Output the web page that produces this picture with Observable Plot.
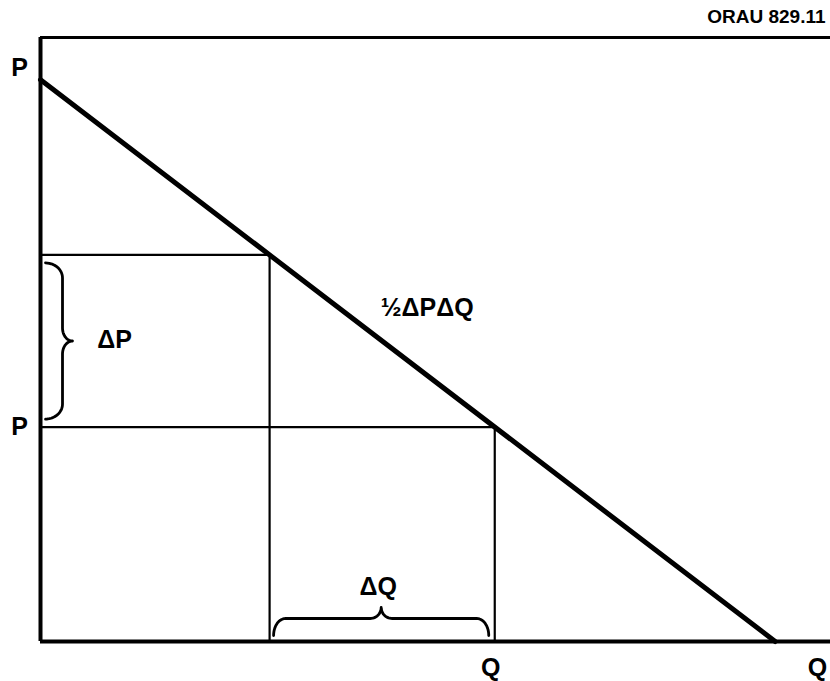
<!DOCTYPE html>
<html>
<head>
<meta charset="utf-8">
<script src="https://cdn.jsdelivr.net/npm/d3@7"></script>
<script src="https://cdn.jsdelivr.net/npm/@observablehq/plot@0.6"></script>
<style>
  html, body { margin: 0; padding: 0; background: #fff; }
</style>
</head>
<body>
<div id="chart"></div>
<script>
// ---- data ----
const demandQ = [0, 93];          // demand line quantity end-points
const demandP = [93, 0];          // demand line price end-points
const qLevels = [29, 57.5];       // Q1, Q2 (vertical lines)
const pLevels = [64, 35.5];       // P1, P2 (horizontal lines)
const pLabelText = ["P", "P"];
const qLabelText = ["Q", "Q"];
const figureId = "ORAU 829.11";
const areaLabel = "½ΔPΔQ";
const dPLabel = "ΔP";
const dQLabel = "ΔQ";

// ---- layout ----
const W = 830, H = 681, mL = 40, mR = 0, mT = 37, mB = 40;
const pxX = 100 / (W - mL - mR);  // data units per pixel (x)
const pxY = 100 / (H - mT - mB);  // data units per pixel (y)

// brace shape in a local pixel frame: t along, u perpendicular
function braceShape(L, h1, h2, rEnd, rTip, n = 14) {
  const half = [];
  for (let i = 0; i <= n; i++) {
    const th = (i / n) * Math.PI / 2;
    half.push([rEnd * (1 - Math.cos(th)), h1 * Math.sin(th)]);
  }
  for (let i = 0; i <= n; i++) {
    const ph = (i / n) * Math.PI / 2;
    half.push([L / 2 - rTip + rTip * Math.sin(ph), h1 + (h2 - h1) * (1 - Math.cos(ph))]);
  }
  const other = half.slice().reverse().map(([t, u]) => [L - t, u]);
  return half.concat(other.slice(1));
}

const demand = demandQ.map((q, i) => ({q, p: demandP[i]}));

// Vertical brace for ΔP (between P2 and P1, beside the price axis)
const pTop = pLevels[0] - 8 * pxY, pBot = pLevels[1] + 8 * pxY;
const LP = (pTop - pBot) / pxY;
const braceP = braceShape(LP, 17, 27, 15, 13).map(([t, u]) => ({
  x: 0 + (5 + u) * pxX,
  y: pTop - t * pxY
}));

// Horizontal brace for ΔQ (between Q1 and Q2, above quantity axis)
const qL = qLevels[0] + 4 * pxX, qR = qLevels[1] - 6 * pxX;
const LQ = (qR - qL) / pxX;
const braceQ = braceShape(LQ, 17, 28, 12, 11).map(([t, u]) => ({
  x: qL + t * pxX,
  y: 0 + (6 + u) * pxY
}));

const font = {fontFamily: "Liberation Sans, Arial, sans-serif", fontWeight: "bold", fill: "#000"};

const chart = Plot.plot({
  width: W,
  height: H,
  marginLeft: mL,
  marginRight: mR,
  marginTop: mT,
  marginBottom: mB,
  x: {domain: [0, 100], axis: null},
  y: {domain: [0, 100], axis: null},
  style: {background: "#fff", overflow: "visible"},
  marks: [
    // frame: top border, price axis, quantity axis
    Plot.ruleY([100], {x1: 0, x2: 100, stroke: "#000", strokeWidth: 3}),
    Plot.ruleX([0], {y1: 0, y2: 100, stroke: "#000", strokeWidth: 4}),
    Plot.ruleY([0], {x1: 0, x2: 100, stroke: "#000", strokeWidth: 4}),
    // price / quantity guide lines
    Plot.ruleY(pLevels, {x1: 0, x2: (d, i) => qLevels[i], stroke: "#000", strokeWidth: 2.2}),
    Plot.ruleX(qLevels, {y1: 0, y2: (d, i) => pLevels[i], stroke: "#000", strokeWidth: 2.2}),
    // demand line
    Plot.line(demand, {x: "q", y: "p", stroke: "#000", strokeWidth: 5}),
    // braces
    Plot.line(braceP, {x: "x", y: "y", stroke: "#000", strokeWidth: 2.8, curve: "linear"}),
    Plot.line(braceQ, {x: "x", y: "y", stroke: "#000", strokeWidth: 2.8, curve: "linear"}),
    // labels
    Plot.text([pLabelText[0]], {x: 0, y: demandP[0], text: d => d, dx: -21, dy: -12, fontSize: 25, ...font}),
    Plot.text([pLabelText[1]], {x: 0, y: pLevels[1], text: d => d, dx: -21, dy: 0, fontSize: 25, ...font}),
    Plot.text([qLabelText[0]], {x: qLevels[1], y: 0, text: d => d, dx: -4, dy: 26, fontSize: 25, ...font}),
    Plot.text([qLabelText[1]], {x: 100, y: 0, text: d => d, dx: -13, dy: 26, fontSize: 25, ...font}),
    Plot.text([dPLabel], {x: 0, y: (pLevels[0] + pLevels[1]) / 2, text: d => d, dx: 74, dy: -1, fontSize: 25, ...font}),
    Plot.text([dQLabel], {x: (qLevels[0] + qLevels[1]) / 2, y: 0, text: d => d, dx: -4, dy: -55, fontSize: 25, ...font}),
    Plot.text([areaLabel], {x: (qLevels[0] + qLevels[1]) / 2, y: (pLevels[0] + pLevels[1]) / 2, text: d => d, dx: 45, dy: -33, fontSize: 25, ...font}),
    Plot.text([figureId], {x: 100, y: 100, text: d => d, textAnchor: "end", dx: -5, dy: -21, fontSize: 19, letterSpacing: 2, ...font})
  ]
});

document.getElementById("chart").appendChild(chart);
</script>
</body>
</html>
